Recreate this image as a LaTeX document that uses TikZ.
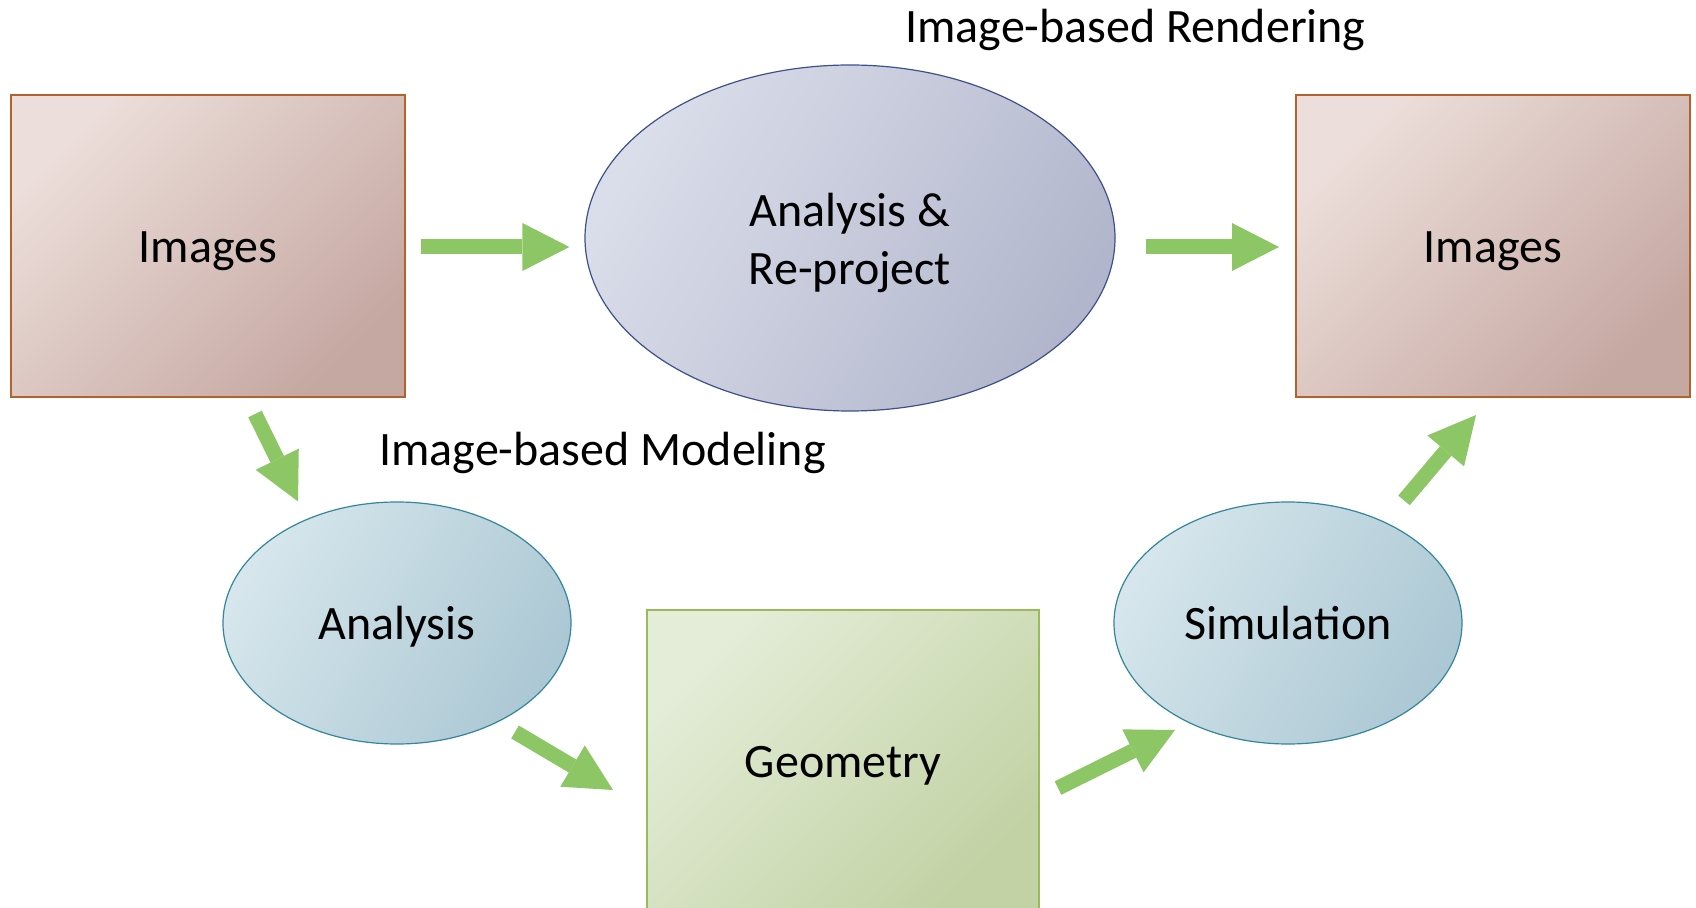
\documentclass[tikz,border=0pt]{standalone}
\usepackage{fontspec}
\setmainfont{Carlito}
\usepackage{tikz}
\usetikzlibrary{arrows.meta,calc,shapes.geometric}

\definecolor{imgline}{RGB}{178,98,42}
\definecolor{imglight}{RGB}{236,222,218}
\definecolor{imgdark}{RGB}{198,168,162}
\definecolor{projline}{RGB}{62,80,140}
\definecolor{projlight}{RGB}{218,222,234}
\definecolor{projdark}{RGB}{178,182,204}
\definecolor{stepline}{RGB}{50,134,158}
\definecolor{steplight}{RGB}{214,230,236}
\definecolor{stepdark}{RGB}{172,200,212}
\definecolor{geoline}{RGB}{155,187,89}
\definecolor{geolight}{RGB}{228,237,216}
\definecolor{geodark}{RGB}{194,210,164}
\definecolor{flowgreen}{RGB}{141,198,100}

\begin{document}
\begin{tikzpicture}[x=0.5pt, y=-0.5pt,
					every node/.style={
						font=\fontsize{24}{29}\selectfont,
						align=center
					},
					oneline/.style={text height=22pt, text depth=5.2pt},
					imgbox/.style={rectangle, draw=imgline, line width=1pt, oneline,
						top color=imglight, bottom color=imgdark, shading angle=45,
						minimum width=197pt, minimum height=151pt},
					geobox/.style={rectangle, draw=geoline, line width=1pt, oneline,
						top color=geolight, bottom color=geodark, shading angle=45,
						minimum width=196pt, minimum height=151pt},
					projell/.style={ellipse, draw=projline, line width=0.6pt,
						text height=51.7pt, text depth=5.2pt,
						top color=projlight, bottom color=projdark, shading angle=60,
						minimum width=265pt, minimum height=173pt},
					stepell/.style={ellipse, draw=stepline, line width=0.6pt, oneline,
						top color=steplight, bottom color=stepdark, shading angle=60,
						minimum width=174pt, minimum height=121pt},
					caption/.style={anchor=base west, inner sep=0pt},
					flow/.style={draw=flowgreen, line width=7.5pt,
						-{Triangle[width=24pt, length=23.5pt, line width=0pt]}}
				]
				\useasboundingbox (0,0) rectangle (1696,908);
				\clip (0,0) rectangle (1696,908);
				
				\node[imgbox] (imgL) at (208,246) {Images};
				\node[imgbox] (imgR) at (1493,246) {Images};
				\node[projell] (proj) at (850,238) {Analysis \&\\Re-project};
				\node[stepell] (ana) at (397,623) {Analysis};
				\node[stepell] (sim) at (1288,623) {Simulation};
				\node[geobox] (geo) at (843,761) {Geometry};
				
				\node[caption] (rendcap) at (905,43) {Image-based Rendering};
				\node[caption] (modcap) at (379,466) {Image-based Modeling};
				
				%
				\coordinate (a1s) at ($(imgL.east)+(15,1)$);
				\coordinate (a1e) at ($(proj.west)+(-15,9)$);
				\coordinate (a2s) at ($(proj.east)+(30,9)$);
				\coordinate (a2e) at ($(imgR.west)+(-16,1)$);
				\coordinate (a3s) at ($(imgL.south)+(47,16)$);
				\coordinate (a3e) at ($(ana.north)+(-99,0)$);
				\coordinate (a4s) at ($(ana.center)+(118,109)$);
				\coordinate (a4e) at ($(geo.west)+(-33,29)$);
				\coordinate (a5s) at ($(geo.east)+(18,27)$);
				\coordinate (a5e) at ($(sim.center)+(-113,107)$);
				\coordinate (a6s) at ($(sim.north)+(116,-1)$);
				\coordinate (a6e) at ($(imgR.south)+(-17,17)$);
				
				\draw[flow] (a1s) -- (a1e);
				\draw[flow] (a2s) -- (a2e);
				\draw[flow] (a3s) -- (a3e);
				\draw[flow] (a4s) -- (a4e);
				\draw[flow] (a5s) -- (a5e);
				\draw[flow] (a6s) -- (a6e);
			\end{tikzpicture}
\end{document}
